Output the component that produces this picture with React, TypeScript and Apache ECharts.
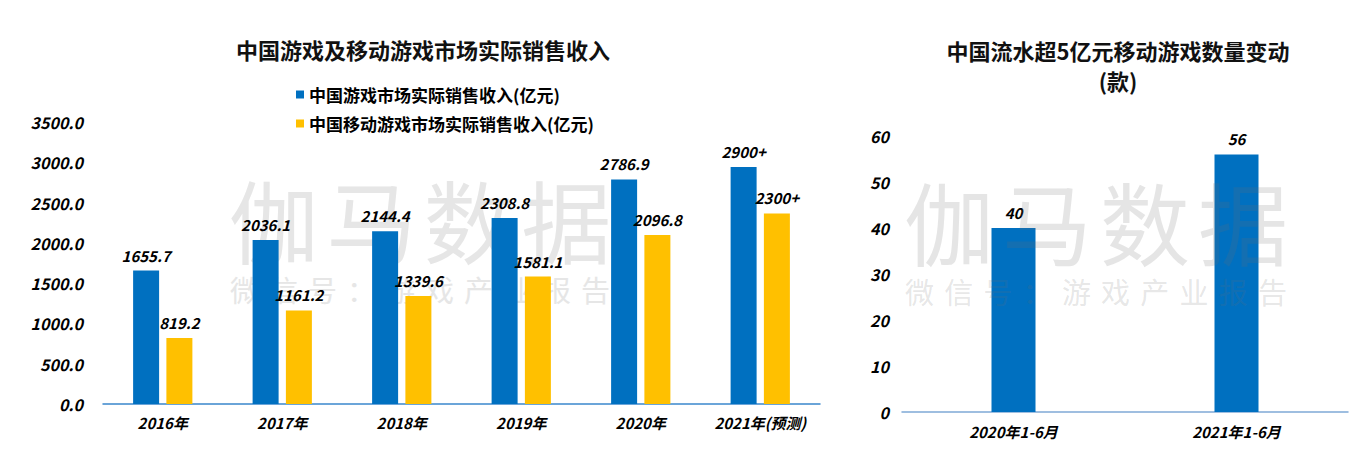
import React, { useEffect, useRef } from "react";
import * as echarts from "echarts";

const years = ["2016年", "2017年", "2018年", "2019年", "2020年", "2021年(预测)"];
const totalRevenue = [1655.7, 2036.1, 2144.4, 2308.8, 2786.9, 2940];
const mobileRevenue = [819.2, 1161.2, 1339.6, 1581.1, 2096.8, 2365];
const totalLabels = ["1655.7", "2036.1", "2144.4", "2308.8", "2786.9", "2900+"];
const mobileLabels = ["819.2", "1161.2", "1339.6", "1581.1", "2096.8", "2300+"];
const periods = ["2020年1-6月", "2021年1-6月"];
const gameCounts = [40, 56];
const leftTitle = "中国游戏及移动游戏市场实际销售收入";
const rightTitle = "中国流水超5亿元移动游戏数量变动\n(款)";
const legendNames = ["中国游戏市场实际销售收入(亿元)", "中国移动游戏市场实际销售收入(亿元)"];
const watermarkMain = "伽马数据";
const watermarkSub = "微信号：游戏产业报告";

const FONT = "'Noto Sans CJK SC', sans-serif";
const BLUE = "#0070C0";
const YELLOW = "#FFC000";

function watermark(x0: number, x1: number, yMain: number, ySub: number, z: number, fill: string) {
  const els: any[] = [];
  const wMain = (x1 - x0) / watermarkMain.length;
  watermarkMain.split("").forEach((ch, i) => {
    els.push({
      type: "text",
      z,
      x: x0 + wMain * (i + 0.5),
      y: yMain,
      silent: true,
      style: {
        text: ch,
        fontSize: 90,
        fontFamily: FONT,
        fill,
        textAlign: "center",
        textVerticalAlign: "middle",
        align: "center",
        verticalAlign: "middle",
      },
    });
  });
  const wSub = (x1 - x0) / watermarkSub.length;
  watermarkSub.split("").forEach((ch, i) => {
    els.push({
      type: "text",
      z,
      x: x0 + wSub * (i + 0.5),
      y: ySub,
      silent: true,
      style: {
        text: ch,
        fontSize: 29,
        fontFamily: FONT,
        fill,
        textAlign: "center",
        textVerticalAlign: "middle",
        align: "center",
        verticalAlign: "middle",
      },
    });
  });
  return els;
}

export default function App() {
  const ref = useRef<HTMLDivElement>(null);
  useEffect(() => {
    if (!ref.current) return;
    const chart = echarts.init(ref.current, undefined, { renderer: "svg" });
    const numLabel = {
      fontFamily: FONT,
      fontStyle: "italic" as const,
      fontWeight: "bold" as const,
      color: "#000",
    };
    chart.setOption({
      animation: false,
      backgroundColor: "#fff",
      title: [
        {
          text: leftTitle,
          left: 418,
          top: 33,
          textAlign: "center",
          textStyle: { fontFamily: FONT, fontSize: 22, fontWeight: "bold", color: "#111" },
        },
        {
          text: rightTitle,
          left: 1113,
          top: 30,
          textAlign: "center",
          textStyle: { fontFamily: FONT, fontSize: 22, fontWeight: "bold", color: "#111", lineHeight: 30 },
        },
      ],
      legend: {
        data: legendNames,
        orient: "vertical",
        left: 291,
        top: 81,
        itemGap: 12,
        itemWidth: 8,
        itemHeight: 8,
        icon: "rect",
        textStyle: { fontFamily: FONT, fontSize: 17, fontWeight: "bold", color: "#000" },
      },
      graphic: [
        ...watermark(225, 615, 218, 289, 0, "#e6e6e6"),
        ...watermark(900, 1292, 220, 291, 50, "rgba(110,110,110,0.18)"),
      ],
      grid: [
        { left: 103, right: 537, top: 122, bottom: 48 },
        { left: 902, right: 9, top: 136, bottom: 40 },
      ],
      xAxis: [
        {
          type: "category",
          gridIndex: 0,
          data: years,
          axisLine: { lineStyle: { color: "#3a87cc", width: 1.5 } },
          axisTick: { show: false },
          axisLabel: { ...numLabel, fontSize: 15, margin: 11 },
        },
        {
          type: "category",
          gridIndex: 1,
          data: periods,
          axisLine: { lineStyle: { color: "#7fa9d6", width: 1.5 } },
          axisTick: { show: false },
          axisLabel: { ...numLabel, fontSize: 15, margin: 12 },
        },
      ],
      yAxis: [
        {
          type: "value",
          gridIndex: 0,
          min: 0,
          max: 3500,
          interval: 500,
          splitLine: { show: false },
          axisLine: { show: false },
          axisTick: { show: false },
          axisLabel: { ...numLabel, fontSize: 16, margin: 20, formatter: (v: number) => v.toFixed(1) },
        },
        {
          type: "value",
          gridIndex: 1,
          min: 0,
          max: 60,
          interval: 10,
          splitLine: { show: false },
          axisLine: { show: false },
          axisTick: { show: false },
          axisLabel: { ...numLabel, fontSize: 16, margin: 13 },
        },
      ],
      series: [
        {
          name: legendNames[0],
          type: "bar",
          xAxisIndex: 0,
          yAxisIndex: 0,
          data: totalRevenue,
          barWidth: 26,
          barGap: "28%",
          itemStyle: { color: BLUE },
          label: {
            show: true,
            position: "top",
            distance: 8,
            ...numLabel,
            fontSize: 15,
            formatter: (p: any) => totalLabels[p.dataIndex],
          },
        },
        {
          name: legendNames[1],
          type: "bar",
          xAxisIndex: 0,
          yAxisIndex: 0,
          data: mobileRevenue,
          barWidth: 26,
          barGap: "28%",
          itemStyle: { color: YELLOW },
          label: {
            show: true,
            position: "top",
            distance: 8,
            ...numLabel,
            fontSize: 15,
            formatter: (p: any) => mobileLabels[p.dataIndex],
          },
        },
        {
          name: "数量",
          type: "bar",
          xAxisIndex: 1,
          yAxisIndex: 1,
          data: gameCounts,
          barWidth: 44,
          itemStyle: { color: BLUE },
          label: {
            show: true,
            position: "top",
            distance: 8,
            ...numLabel,
            fontSize: 15,
          },
        },
      ],
    });
    return () => chart.dispose();
  }, []);
  return (
    <div
      ref={ref}
      style={{ position: "absolute", left: 0, top: 0, width: 1357, height: 452, background: "#fff" }}
    />
  );
}
